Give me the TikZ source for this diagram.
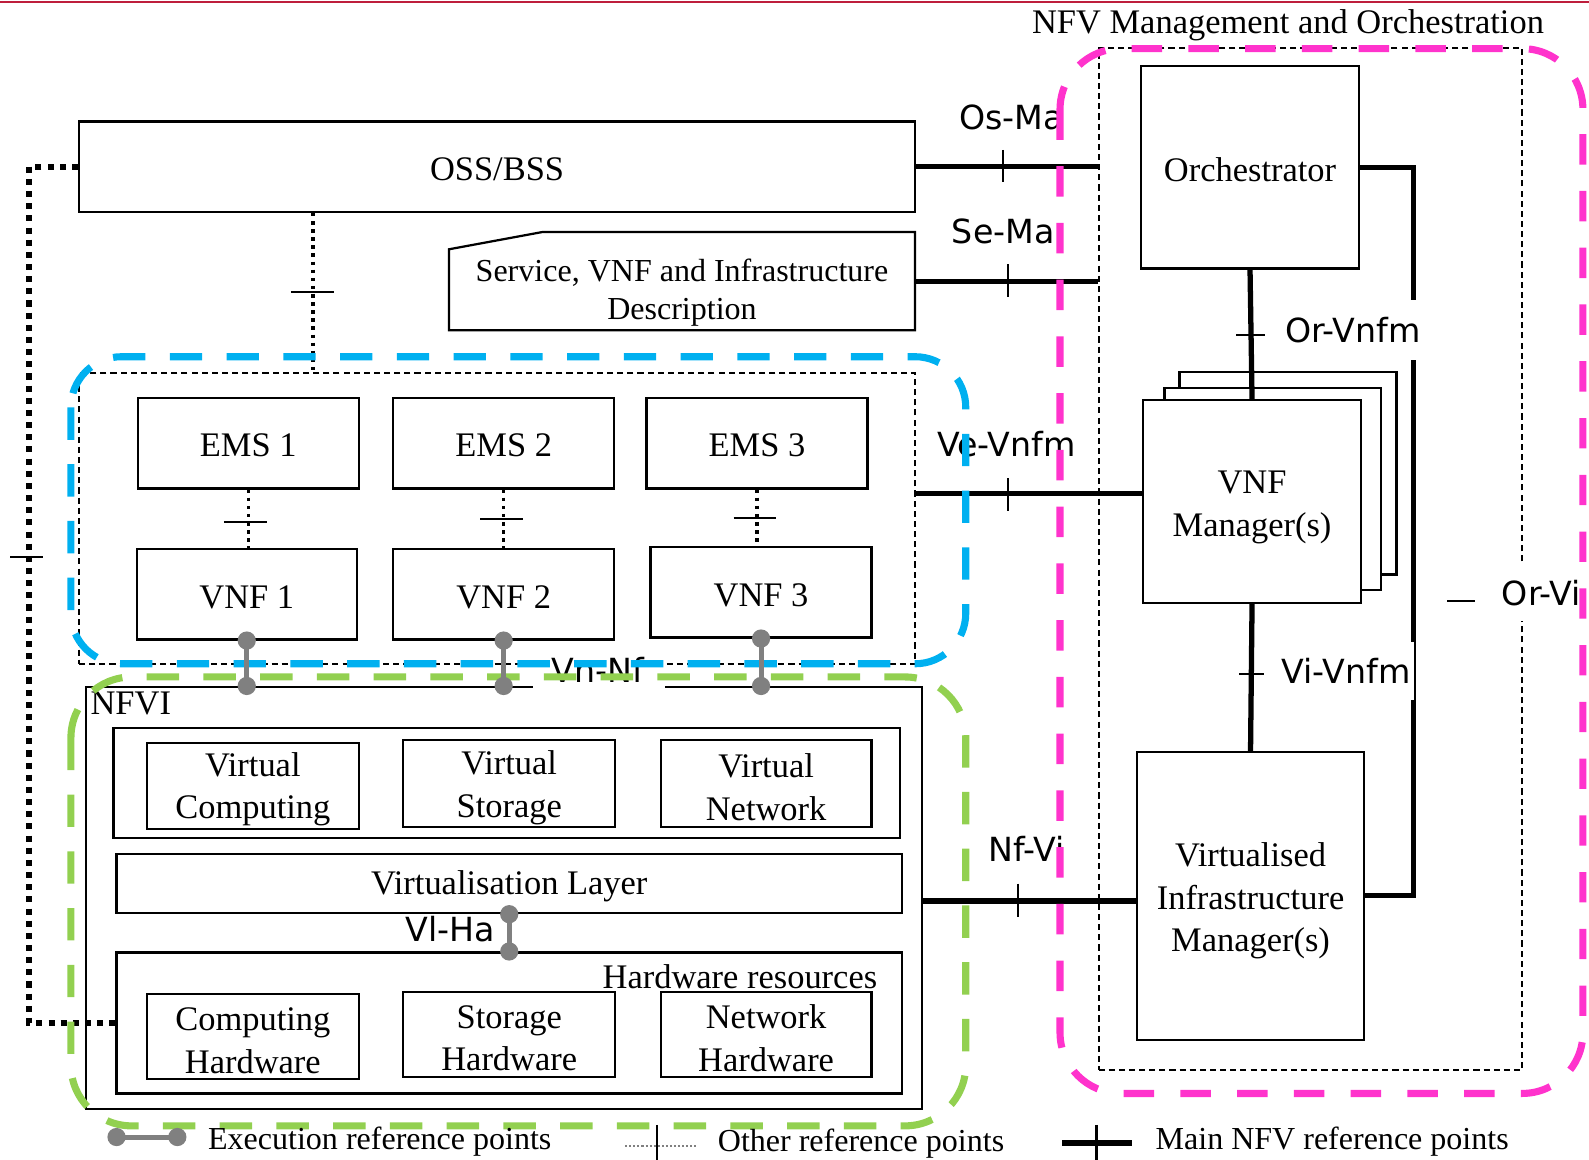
\documentclass[tikz,border=0pt]{standalone}
\usepackage{fontspec}
\setmainfont{Liberation Serif}
\newfontfamily\sanslbl{DejaVu Sans}
\newcommand\serifsz{\fontsize{17}{21}\selectfont}
\newcommand\smallserifsz{\fontsize{15.8}{18.5}\selectfont}
\newcommand\sanssz{\sanslbl\fontsize{16.4}{18}\selectfont}
\definecolor{manopink}{HTML}{FF33CC}
\definecolor{vnfblue}{HTML}{00B0F0}
\definecolor{nfvigreen}{HTML}{92D050}
\definecolor{execgray}{HTML}{808080}
\definecolor{topred}{RGB}{190,30,60}
\begin{document}
\begin{tikzpicture}[x=0.5pt,y=-0.5pt,
  box/.style={draw=black, line width=1.1pt, fill=white, inner sep=0pt},
  dbox/.style={draw=black, line width=1pt, dash pattern=on 3pt off 2pt, inner sep=0pt},
  txt/.style={inner sep=0pt, align=center, font=\serifsz},
  lbl/.style={inner sep=1pt, font=\sanssz},
  main/.style={draw=black, line width=2.6pt},
  tick/.style={draw=black, line width=1pt},
  other/.style={draw=black, line width=1.75pt, dash pattern=on 1.75pt off 2.25pt},
  otherthick/.style={draw=black, line width=3pt, dash pattern=on 3pt off 3pt},
  exec/.style={draw=execgray, line width=2.5pt},
  dot/.style={fill=execgray},
  groupline/.style={line width=3.5pt, dash pattern=on 16pt off 12pt}
]
\useasboundingbox (0,0) rectangle (1568,1144);

% thin rule along the top edge
\draw[line width=1pt, draw=topred] (0,2) -- (1568,2);

% ---------------- management and orchestration block ----------------
\node[txt] (manotitle) at (1271,25) {NFV Management and Orchestration};
\node[dbox, minimum width=209pt, minimum height=504.5pt] (mano) at (1293,551.5) {};
\node[box, minimum width=107.5pt, minimum height=100pt] (orch) at (1233.5,165) {};
\node[txt] (orchT) at (1233.5,167) {Orchestrator};
% stacked VNF managers
\draw[line width=1.1pt, fill=white] (1164,367) rectangle (1378,567);
\draw[line width=1.1pt, fill=white] (1149,383) rectangle (1363,582);
\node[box, minimum width=107.5pt, minimum height=100pt] (vnfm) at (1235.5,495) {};
\node[txt] (vnfmT) at (1235.5,501) {VNF\\Manager(s)};
\node[box, minimum width=112pt, minimum height=142pt] (vim) at (1234,884) {};
\node[txt] (vimT) at (1234,889) {Virtualised\\Infrastructure\\Manager(s)};

% ---------------- OSS/BSS and descriptors ----------------
\node[box, minimum width=412.5pt, minimum height=44.5pt] (oss) at (490.5,164.5) {};
\node[txt] (ossT) at (490.5,167) {OSS/BSS};
\draw[line width=1.1pt, fill=white] (443,246) -- (535,229) -- (903,229) -- (903,326) -- (443,326) -- cycle;
\node[inner sep=0pt, minimum width=230pt, minimum height=48.5pt] (desc) at (673,277.5) {};
\node[txt, font=\smallserifsz] (descT) at (673,289) {Service, VNF and Infrastructure\\Description};

% ---------------- EMS / VNF layer ----------------
\node[dbox, minimum width=412.5pt, minimum height=143.5pt] (emsbox) at (490.5,511.5) {};
\node[box, minimum width=109pt, minimum height=44.5pt] (ems1) at (245,437.5) {};
\node[box, minimum width=109pt, minimum height=44.5pt] (ems2) at (497,437.5) {};
\node[box, minimum width=109pt, minimum height=44.5pt] (ems3) at (747,437.5) {};
\node[txt] (ems1T) at (245,439.5) {EMS 1};
\node[txt] (ems2T) at (497,439.5) {EMS 2};
\node[txt] (ems3T) at (747,439.5) {EMS 3};
\node[box, minimum width=108.5pt, minimum height=44.5pt] (vnf1) at (243.5,586.5) {};
\node[box, minimum width=109pt, minimum height=44.5pt] (vnf2) at (497,586.5) {};
\node[box, minimum width=109pt, minimum height=44.5pt] (vnf3) at (751,584.5) {};
\node[txt] (vnf1T) at (243.5,589) {VNF 1};
\node[txt] (vnf2T) at (497,589) {VNF 2};
\node[txt] (vnf3T) at (751,587) {VNF 3};

% ---------------- NFVI ----------------
\node[box, minimum width=412.5pt, minimum height=208pt] (nfvi) at (497.5,886) {};
\node[txt, anchor=north west] (nfviT) at (89,682) {NFVI};
\node[box, minimum width=388pt, minimum height=54.5pt] (vres) at (500,772.5) {};
\node[box, minimum width=104.5pt, minimum height=42.5pt] (vcomp) at (249.5,775.5) {};
\node[box, minimum width=104.5pt, minimum height=43pt] (vstor) at (502.5,773) {};
\node[box, minimum width=104pt, minimum height=43pt] (vnet) at (756,773) {};
\node[txt] (vcompT) at (249.5,779) {Virtual\\Computing};
\node[txt] (vstorT) at (502.5,777.5) {Virtual\\Storage};
\node[txt] (vnetT) at (756,777) {Virtual\\Network};
\node[box, minimum width=387.5pt, minimum height=29pt] (vlayer) at (502.5,872) {};
\node[txt] (vlayerT) at (502.5,875) {Virtualisation Layer};
\node[box, minimum width=387.5pt, minimum height=69.5pt] (hwres) at (502.5,1009.5) {};
\node[txt, anchor=east] (hwresT) at (866,964) {Hardware resources};
\node[box, minimum width=104.5pt, minimum height=42pt] (chw) at (249.5,1023) {};
\node[box, minimum width=104.5pt, minimum height=42pt] (shw) at (502.5,1021) {};
\node[box, minimum width=104pt, minimum height=42pt] (nhw) at (756,1021) {};
\node[txt] (chwT) at (249.5,1027) {Computing\\Hardware};
\node[txt] (shwT) at (502.5,1024.5) {Storage\\Hardware};
\node[txt] (nhwT) at (756,1024.5) {Network\\Hardware};

% ---------------- other reference points ----------------
\draw[other] ([xshift=-90.75pt]oss.south) -- ([xshift=-90.75pt]oss.south |- emsbox.north);
\draw[tick] (287,288) -- (330,288);
\draw[other] (ems1.south) -- (ems1.south |- vnf1.north);
\draw[other] (ems2.south) -- (ems2.south |- vnf2.north);
\draw[other] (ems3.south) -- (ems3.south |- vnf3.north);
\draw[tick] (221,515) -- (263,515);
\draw[tick] (474,512) -- (516,512);
\draw[tick] (724,511) -- (766,511);
\draw[otherthick] (oss.west) -- ++(-48,0) |- (hwres.west);
\draw[tick] (10,550) -- (42,550);

% ---------------- main NFV reference points ----------------
\draw[main] (oss.east) -- (oss.east -| mano.west);
\draw[tick] (990,148) -- (990,180);
\draw[main] (desc.east) -- (desc.east -| mano.west);
\draw[tick] (995,261) -- (995,293);
\draw[main] ([yshift=4pt]vnfm.west) -- ([yshift=4pt]vnfm.west -| emsbox.east);
\draw[tick] (995,472) -- (995,504);
\draw[main] ([yshift=-2.5pt]vim.west) -- ([yshift=-2.5pt]vim.west -| nfvi.east);
\draw[tick] (1005,872) -- (1005,905);
\draw[main] (orch.south) -- (vnfm.north);
\draw[tick] (1220,331) -- (1248,331);
\draw[main] (vnfm.south) -- (vim.north);
\draw[tick] (1223,665) -- (1247,665);
\draw[main] (orch.east) -- ++(53,0) |- (vim.east);
\draw[tick] (1428,593) -- (1455,593);

% reference point names
\node[lbl] (osma) at (998,116) {Os-Ma};
\node[lbl] (sema) at (990,228) {Se-Ma};
\node[lbl] (vevnfm) at (993,438) {Ve-Vnfm};
\node[lbl] (nfvi2vim) at (1013,838) {Nf-Vi};
\node[lbl, fill=white, inner xsep=2pt, minimum height=29.5pt] (orvnfm) at (1335,326) {Or-Vnfm};
\node[lbl, fill=white, inner xsep=2pt, minimum height=28.5pt] (vivnfm) at (1328,662) {Vi-Vnfm};
\node[lbl, fill=white, inner xsep=3pt, minimum height=28pt] (orvi) at (1521,585) {Or-Vi};
\node[fill=white, inner sep=0pt, minimum width=65pt, minimum height=17pt] (vngap) at (591,667) {};
\node[lbl] (vnnf) at (590,661) {Vn-Nf};
\node[lbl, anchor=east] (vlha) at (491,917) {Vl-Ha};

% ---------------- functional groupings ----------------
\draw[groupline, draw=vnfblue, rounded corners=25pt] (70,352) rectangle (953,655);
\draw[groupline, draw=nfvigreen, rounded corners=30pt] (70,668) rectangle (953,1111);
\draw[groupline, draw=manopink, dash pattern=on 15pt off 13pt, rounded corners=30pt] (1046,48) rectangle (1562,1079);

% ---------------- execution reference points ----------------
\foreach \v in {vnf1,vnf2,vnf3}{
  \draw[exec] (\v.south) -- (\v.south |- nfvi.north);
  \fill[dot] (\v.south) circle (4.5pt);
  \fill[dot] (\v.south |- nfvi.north) circle (4.5pt);
}
\draw[exec] (vlayer.south) -- (hwres.north);
\fill[dot] (vlayer.south) circle (4.5pt);
\fill[dot] (hwres.north) circle (4.5pt);

% ---------------- legend ----------------
\coordinate (exA) at (115,1122);
\coordinate (exB) at (175,1122);
\draw[exec] (exA) -- (exB);
\fill[dot] (exA) circle (4.5pt);
\fill[dot] (exB) circle (4.5pt);
\node[txt, font=\smallserifsz, anchor=west] (exlbl) at (205,1127) {Execution reference points};

\coordinate (otA) at (617,1131);
\coordinate (otB) at (688,1131);
\draw[draw=execgray, line width=1pt, dash pattern=on 1pt off 1pt] (otA) -- (otB);
\draw[tick] (648,1110) -- (648,1146);
\node[txt, font=\smallserifsz, anchor=west] (otlbl) at (708,1129) {Other reference points};

\coordinate (mnA) at (1048,1128);
\coordinate (mnB) at (1117,1128);
\draw[main, line width=3pt] (mnA) -- (mnB);
\draw[tick] (1082,1110) -- (1082,1146);
\node[txt, font=\smallserifsz, anchor=west] (mnlbl) at (1140,1127) {Main NFV reference points};
\end{tikzpicture}
\end{document}
